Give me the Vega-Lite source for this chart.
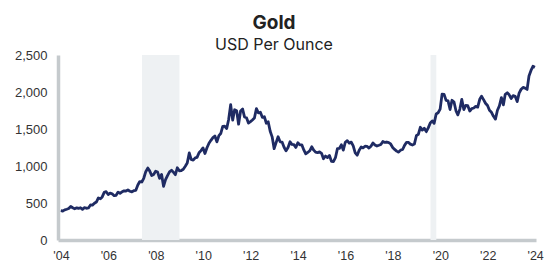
{
  "$schema": "https://vega.github.io/schema/vega-lite/v6.json",
  "width": 478,
  "height": 185,
  "autosize": {"type": "none"},
  "padding": {"left": 58, "top": 55, "right": 11, "bottom": 28},
  "background": "white",
  "config": {"view": {"stroke": null}},
  "title": {
    "text": "Gold",
    "subtitle": "USD Per Ounce",
    "font": "Inter",
    "fontSize": 19,
    "fontWeight": "bold",
    "color": "#222222",
    "subtitleFont": "Inter",
    "subtitleFontSize": 16,
    "subtitleColor": "#222222",
    "subtitlePadding": 4,
    "anchor": "middle",
    "frame": "group",
    "dx": -23,
    "offset": -4
  },
  "datasets": {
    "recessions": [
      {"start": "2007-12-01", "end": "2009-06-30"},
      {"start": "2020-02-01", "end": "2020-04-30"}
    ],
    "gold": [
      {"date": "2004-06-28", "price": 395.8}, {"date": "2004-07-28", "price": 391.4}, {"date": "2004-08-28", "price": 407.3}, {"date": "2004-09-28", "price": 415.7}, {"date": "2004-10-28", "price": 425.6}, {"date": "2004-11-28", "price": 453.4}, {"date": "2004-12-28", "price": 435.6},
      {"date": "2005-01-28", "price": 422}, {"date": "2005-02-28", "price": 435}, {"date": "2005-03-28", "price": 427}, {"date": "2005-04-28", "price": 436}, {"date": "2005-05-28", "price": 415}, {"date": "2005-06-28", "price": 437}, {"date": "2005-07-28", "price": 429}, {"date": "2005-08-28", "price": 433}, {"date": "2005-09-28", "price": 473}, {"date": "2005-10-28", "price": 471}, {"date": "2005-11-28", "price": 496}, {"date": "2005-12-28", "price": 513},
      {"date": "2006-01-28", "price": 569}, {"date": "2006-02-28", "price": 556}, {"date": "2006-03-28", "price": 582}, {"date": "2006-04-28", "price": 644}, {"date": "2006-05-28", "price": 653}, {"date": "2006-06-28", "price": 614}, {"date": "2006-07-28", "price": 633}, {"date": "2006-08-28", "price": 624}, {"date": "2006-09-28", "price": 599}, {"date": "2006-10-28", "price": 604}, {"date": "2006-11-28", "price": 647}, {"date": "2006-12-28", "price": 632},
      {"date": "2007-01-28", "price": 651}, {"date": "2007-02-28", "price": 664}, {"date": "2007-03-28", "price": 662}, {"date": "2007-04-28", "price": 677}, {"date": "2007-05-28", "price": 659}, {"date": "2007-06-28", "price": 651}, {"date": "2007-07-28", "price": 666}, {"date": "2007-08-28", "price": 672}, {"date": "2007-09-28", "price": 743}, {"date": "2007-10-28", "price": 790}, {"date": "2007-11-28", "price": 784}, {"date": "2007-12-28", "price": 834},
      {"date": "2008-01-28", "price": 923}, {"date": "2008-02-28", "price": 972}, {"date": "2008-03-28", "price": 934}, {"date": "2008-04-28", "price": 871}, {"date": "2008-05-28", "price": 886}, {"date": "2008-06-28", "price": 930}, {"date": "2008-07-28", "price": 918}, {"date": "2008-08-28", "price": 833}, {"date": "2008-09-28", "price": 885}, {"date": "2008-10-28", "price": 725}, {"date": "2008-11-28", "price": 815}, {"date": "2008-12-28", "price": 870},
      {"date": "2009-01-28", "price": 920}, {"date": "2009-02-28", "price": 942}, {"date": "2009-03-28", "price": 917}, {"date": "2009-04-28", "price": 883}, {"date": "2009-05-28", "price": 976}, {"date": "2009-06-28", "price": 935}, {"date": "2009-07-28", "price": 939}, {"date": "2009-08-28", "price": 956}, {"date": "2009-09-28", "price": 996}, {"date": "2009-10-28", "price": 1040}, {"date": "2009-11-28", "price": 1176}, {"date": "2009-12-28", "price": 1088},
      {"date": "2010-01-28", "price": 1079}, {"date": "2010-02-28", "price": 1110}, {"date": "2010-03-28", "price": 1116}, {"date": "2010-04-28", "price": 1179}, {"date": "2010-05-28", "price": 1208}, {"date": "2010-06-28", "price": 1244}, {"date": "2010-07-28", "price": 1169}, {"date": "2010-08-28", "price": 1246}, {"date": "2010-09-28", "price": 1308}, {"date": "2010-10-28", "price": 1347}, {"date": "2010-11-28", "price": 1384}, {"date": "2010-12-28", "price": 1406},
      {"date": "2011-01-28", "price": 1327}, {"date": "2011-02-28", "price": 1411}, {"date": "2011-03-28", "price": 1439}, {"date": "2011-04-28", "price": 1536}, {"date": "2011-05-28", "price": 1537}, {"date": "2011-06-28", "price": 1506}, {"date": "2011-07-28", "price": 1629}, {"date": "2011-08-28", "price": 1830}, {"date": "2011-09-28", "price": 1620}, {"date": "2011-10-28", "price": 1760}, {"date": "2011-11-28", "price": 1746}, {"date": "2011-12-28", "price": 1565},
      {"date": "2012-01-28", "price": 1744}, {"date": "2012-02-28", "price": 1770}, {"date": "2012-03-28", "price": 1663}, {"date": "2012-04-28", "price": 1651}, {"date": "2012-05-28", "price": 1580}, {"date": "2012-06-28", "price": 1599}, {"date": "2012-07-28", "price": 1622}, {"date": "2012-08-28", "price": 1649}, {"date": "2012-09-28", "price": 1776}, {"date": "2012-10-28", "price": 1719}, {"date": "2012-11-28", "price": 1726}, {"date": "2012-12-28", "price": 1658},
      {"date": "2013-01-28", "price": 1665}, {"date": "2013-02-28", "price": 1578}, {"date": "2013-03-28", "price": 1598}, {"date": "2013-04-28", "price": 1469}, {"date": "2013-05-28", "price": 1394}, {"date": "2013-06-28", "price": 1234}, {"date": "2013-07-28", "price": 1315}, {"date": "2013-08-28", "price": 1395}, {"date": "2013-09-28", "price": 1327}, {"date": "2013-10-28", "price": 1324}, {"date": "2013-11-28", "price": 1253}, {"date": "2013-12-28", "price": 1205},
      {"date": "2014-01-28", "price": 1251}, {"date": "2014-02-28", "price": 1327}, {"date": "2014-03-28", "price": 1292}, {"date": "2014-04-28", "price": 1289}, {"date": "2014-05-28", "price": 1251}, {"date": "2014-06-28", "price": 1315}, {"date": "2014-07-28", "price": 1285}, {"date": "2014-08-28", "price": 1286}, {"date": "2014-09-28", "price": 1217}, {"date": "2014-10-28", "price": 1164}, {"date": "2014-11-28", "price": 1183}, {"date": "2014-12-28", "price": 1206},
      {"date": "2015-01-28", "price": 1260}, {"date": "2015-02-28", "price": 1214}, {"date": "2015-03-28", "price": 1187}, {"date": "2015-04-28", "price": 1180}, {"date": "2015-05-28", "price": 1191}, {"date": "2015-06-28", "price": 1171}, {"date": "2015-07-28", "price": 1098}, {"date": "2015-08-28", "price": 1135}, {"date": "2015-09-28", "price": 1114}, {"date": "2015-10-28", "price": 1142}, {"date": "2015-11-28", "price": 1062}, {"date": "2015-12-28", "price": 1060},
      {"date": "2016-01-28", "price": 1112}, {"date": "2016-02-28", "price": 1235}, {"date": "2016-03-28", "price": 1237}, {"date": "2016-04-28", "price": 1286}, {"date": "2016-05-28", "price": 1215}, {"date": "2016-06-28", "price": 1321}, {"date": "2016-07-28", "price": 1342}, {"date": "2016-08-28", "price": 1309}, {"date": "2016-09-28", "price": 1323}, {"date": "2016-10-28", "price": 1272}, {"date": "2016-11-28", "price": 1178}, {"date": "2016-12-28", "price": 1146},
      {"date": "2017-01-28", "price": 1213}, {"date": "2017-02-28", "price": 1256}, {"date": "2017-03-28", "price": 1245}, {"date": "2017-04-28", "price": 1267}, {"date": "2017-05-28", "price": 1266}, {"date": "2017-06-28", "price": 1242}, {"date": "2017-07-28", "price": 1267}, {"date": "2017-08-28", "price": 1312}, {"date": "2017-09-28", "price": 1283}, {"date": "2017-10-28", "price": 1270}, {"date": "2017-11-28", "price": 1280}, {"date": "2017-12-28", "price": 1291},
      {"date": "2018-01-28", "price": 1331}, {"date": "2018-02-28", "price": 1318}, {"date": "2018-03-28", "price": 1324}, {"date": "2018-04-28", "price": 1315}, {"date": "2018-05-28", "price": 1298}, {"date": "2018-06-28", "price": 1251}, {"date": "2018-07-28", "price": 1224}, {"date": "2018-08-28", "price": 1201}, {"date": "2018-09-28", "price": 1187}, {"date": "2018-10-28", "price": 1215}, {"date": "2018-11-28", "price": 1223}, {"date": "2018-12-28", "price": 1279},
      {"date": "2019-01-28", "price": 1320}, {"date": "2019-02-28", "price": 1319}, {"date": "2019-03-28", "price": 1295}, {"date": "2019-04-28", "price": 1284}, {"date": "2019-05-28", "price": 1296}, {"date": "2019-06-28", "price": 1409}, {"date": "2019-07-28", "price": 1428}, {"date": "2019-08-28", "price": 1523}, {"date": "2019-09-28", "price": 1485}, {"date": "2019-10-28", "price": 1511}, {"date": "2019-11-28", "price": 1464}, {"date": "2019-12-28", "price": 1515},
      {"date": "2020-01-28", "price": 1582}, {"date": "2020-02-28", "price": 1610}, {"date": "2020-03-28", "price": 1577}, {"date": "2020-04-28", "price": 1703}, {"date": "2020-05-28", "price": 1719}, {"date": "2020-06-28", "price": 1768}, {"date": "2020-07-28", "price": 1971}, {"date": "2020-08-28", "price": 1968}, {"date": "2020-09-28", "price": 1887}, {"date": "2020-10-28", "price": 1880}, {"date": "2020-11-28", "price": 1763}, {"date": "2020-12-28", "price": 1888},
      {"date": "2021-01-28", "price": 1864}, {"date": "2021-02-28", "price": 1743}, {"date": "2021-03-28", "price": 1691}, {"date": "2021-04-28", "price": 1769}, {"date": "2021-05-28", "price": 1900}, {"date": "2021-06-28", "price": 1763}, {"date": "2021-07-28", "price": 1818}, {"date": "2021-08-28", "price": 1815}, {"date": "2021-09-28", "price": 1743}, {"date": "2021-10-28", "price": 1776}, {"date": "2021-11-28", "price": 1784}, {"date": "2021-12-28", "price": 1806},
      {"date": "2022-01-28", "price": 1795}, {"date": "2022-02-28", "price": 1901}, {"date": "2022-03-28", "price": 1942}, {"date": "2022-04-28", "price": 1897}, {"date": "2022-05-28", "price": 1848}, {"date": "2022-06-28", "price": 1817}, {"date": "2022-07-28", "price": 1753}, {"date": "2022-08-28", "price": 1726}, {"date": "2022-09-28", "price": 1672}, {"date": "2022-10-28", "price": 1634}, {"date": "2022-11-28", "price": 1754}, {"date": "2022-12-28", "price": 1812},
      {"date": "2023-01-28", "price": 1924}, {"date": "2023-02-28", "price": 1827}, {"date": "2023-03-28", "price": 1969}, {"date": "2023-04-28", "price": 1990}, {"date": "2023-05-28", "price": 1962}, {"date": "2023-06-28", "price": 1912}, {"date": "2023-07-28", "price": 1951}, {"date": "2023-08-28", "price": 1942}, {"date": "2023-09-28", "price": 1870}, {"date": "2023-10-28", "price": 1984}, {"date": "2023-11-28", "price": 2037}, {"date": "2023-12-28", "price": 2062},
      {"date": "2024-01-28", "price": 2053}, {"date": "2024-02-28", "price": 2035}, {"date": "2024-03-28", "price": 2217}, {"date": "2024-04-28", "price": 2291}, {"date": "2024-05-28", "price": 2347}, {"date": "2024-06-28", "price": 2335}
    ]
  },
  "encoding": {
    "x": {
      "type": "temporal",
      "scale": {
        "type": "utc",
        "domain": [
          {"year": 2004, "month": 5, "date": 16, "utc": true},
          {"year": 2024, "month": 7, "date": 14, "utc": true}
        ]
      },
      "axis": {
        "title": null,
        "values": [
          {"year": 2004, "month": 7, "date": 1, "utc": true},
          {"year": 2006, "month": 7, "date": 1, "utc": true},
          {"year": 2008, "month": 7, "date": 1, "utc": true},
          {"year": 2010, "month": 7, "date": 1, "utc": true},
          {"year": 2012, "month": 7, "date": 1, "utc": true},
          {"year": 2014, "month": 7, "date": 1, "utc": true},
          {"year": 2016, "month": 7, "date": 1, "utc": true},
          {"year": 2018, "month": 7, "date": 1, "utc": true},
          {"year": 2020, "month": 7, "date": 1, "utc": true},
          {"year": 2022, "month": 7, "date": 1, "utc": true},
          {"year": 2024, "month": 7, "date": 1, "utc": true}
        ],
        "labelExpr": "'\\'' + utcFormat(datum.value, '%y')",
        "labelFont": "Liberation Sans",
        "labelFontSize": 12.5,
        "labelColor": "#333333",
        "labelPadding": 9,
        "labelOverlap": false,
        "labelFlush": false,
        "ticks": false,
        "grid": false,
        "domainColor": "#c5cacd",
        "domainWidth": 3.5
      }
    }
  },
  "layer": [
    {
      "data": {"name": "recessions"},
      "mark": {"type": "rect", "color": "#eef1f3"},
      "encoding": {
        "x": {"field": "start", "type": "temporal"},
        "x2": {"field": "end"}
      }
    },
    {
      "data": {"name": "gold"},
      "mark": {"type": "line", "color": "#1f2b63", "strokeWidth": 2.8, "strokeJoin": "round"},
      "encoding": {
        "x": {"field": "date", "type": "temporal"},
        "y": {
          "field": "price",
          "type": "quantitative",
          "scale": {"domain": [0, 2500], "nice": false},
          "axis": {
            "title": null,
            "values": [0, 500, 1000, 1500, 2000, 2500],
            "labelExpr": "format(datum.value, ',.0f')",
            "labelFont": "Liberation Sans",
            "labelFontSize": 13,
            "labelColor": "#333333",
            "labelPadding": 11,
            "ticks": false,
            "grid": false,
            "domainColor": "#c5cacd",
            "domainWidth": 3.5
          }
        }
      }
    }
  ]
}
